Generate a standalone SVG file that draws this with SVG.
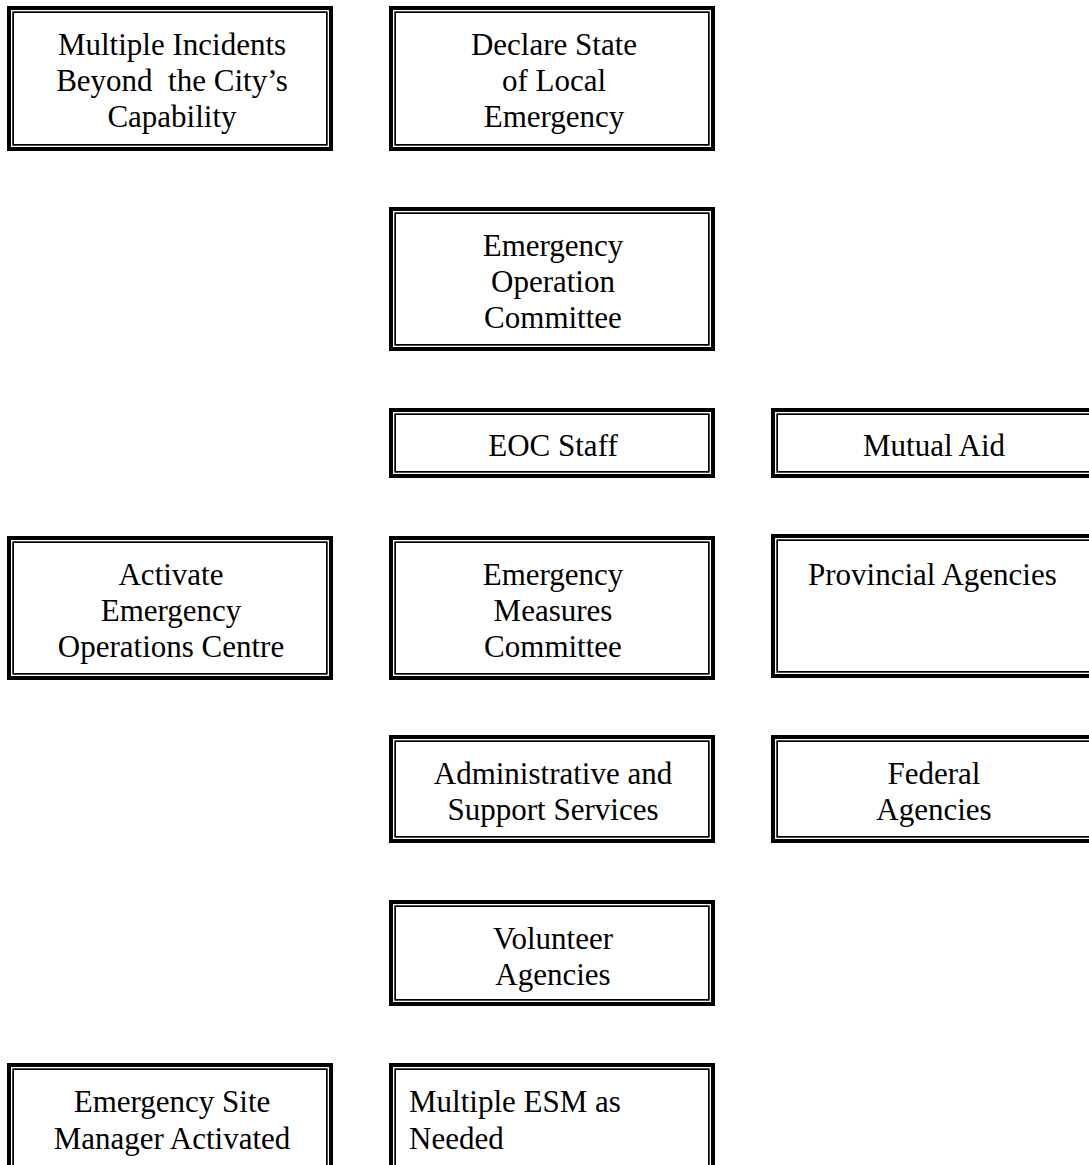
<svg xmlns="http://www.w3.org/2000/svg" width="1089" height="1165" viewBox="0 0 1089 1165">
<style>
.o{fill:#fff;stroke:#000;stroke-width:4}
.i{fill:none;stroke:#000;stroke-width:1.7}
text{font-family:"Liberation Serif","Times New Roman",serif;font-size:31px;fill:#000;white-space:pre}
.c{text-anchor:middle}
</style>
<rect width="1089" height="1165" fill="#fff"/>
<g id="connectors"></g>
<g id="n1"><rect class="o" x="9" y="8" width="322" height="141"/><rect class="i" x="13.15" y="12.15" width="313.7" height="132.7"/>
<text class="c" x="172" y="55">Multiple Incidents</text><text class="c" x="172" y="91" xml:space="preserve">Beyond  the City’s</text><text class="c" x="172" y="127">Capability</text></g>
<g id="n2"><rect class="o" x="391" y="8" width="322" height="141"/><rect class="i" x="395.15" y="12.15" width="313.7" height="132.7"/>
<text class="c" x="554" y="55">Declare State</text><text class="c" x="554" y="91">of Local</text><text class="c" x="554" y="127">Emergency</text></g>
<g id="n3"><rect class="o" x="391" y="209" width="322" height="140"/><rect class="i" x="395.15" y="213.15" width="313.7" height="131.7"/>
<text class="c" x="553" y="256">Emergency</text><text class="c" x="553" y="292">Operation</text><text class="c" x="553" y="328">Committee</text></g>
<g id="n4"><rect class="o" x="391" y="410" width="322" height="66"/><rect class="i" x="395.15" y="414.15" width="313.7" height="57.7"/>
<text class="c" x="553" y="456">EOC Staff</text></g>
<g id="n5"><rect class="o" x="773" y="410" width="322" height="66"/><rect class="i" x="777.15" y="414.15" width="313.7" height="57.7"/>
<text class="c" x="934" y="456">Mutual Aid</text></g>
<g id="n6"><rect class="o" x="9" y="538" width="322" height="140"/><rect class="i" x="13.15" y="542.15" width="313.7" height="131.7"/>
<text class="c" x="171" y="585">Activate</text><text class="c" x="171" y="621">Emergency</text><text class="c" x="171" y="657">Operations Centre</text></g>
<g id="n7"><rect class="o" x="391" y="538" width="322" height="140"/><rect class="i" x="395.15" y="542.15" width="313.7" height="131.7"/>
<text class="c" x="553" y="585">Emergency</text><text class="c" x="553" y="621">Measures</text><text class="c" x="553" y="657">Committee</text></g>
<g id="n8"><rect class="o" x="773" y="536" width="322" height="140"/><rect class="i" x="777.15" y="540.15" width="313.7" height="131.7"/>
<text x="808" y="585">Provincial Agencies</text></g>
<g id="n9"><rect class="o" x="391" y="737" width="322" height="104"/><rect class="i" x="395.15" y="741.15" width="313.7" height="95.7"/>
<text class="c" x="553" y="784">Administrative and</text><text class="c" x="553" y="820">Support Services</text></g>
<g id="n10"><rect class="o" x="773" y="737" width="322" height="104"/><rect class="i" x="777.15" y="741.15" width="313.7" height="95.7"/>
<text class="c" x="934" y="784">Federal</text><text class="c" x="934" y="820">Agencies</text></g>
<g id="n11"><rect class="o" x="391" y="902" width="322" height="102"/><rect class="i" x="395.15" y="906.15" width="313.7" height="93.7"/>
<text class="c" x="553" y="949">Volunteer</text><text class="c" x="553" y="985">Agencies</text></g>
<g id="n12"><rect class="o" x="9" y="1065" width="322" height="130"/><rect class="i" x="13.15" y="1069.15" width="313.7" height="121.7"/>
<text class="c" x="172" y="1112">Emergency Site</text><text class="c" x="172" y="1149">Manager Activated</text></g>
<g id="n13"><rect class="o" x="391" y="1065" width="322" height="130"/><rect class="i" x="395.15" y="1069.15" width="313.7" height="121.7"/>
<text x="409" y="1112">Multiple ESM as</text><text x="409" y="1149">Needed</text></g>
</svg>
